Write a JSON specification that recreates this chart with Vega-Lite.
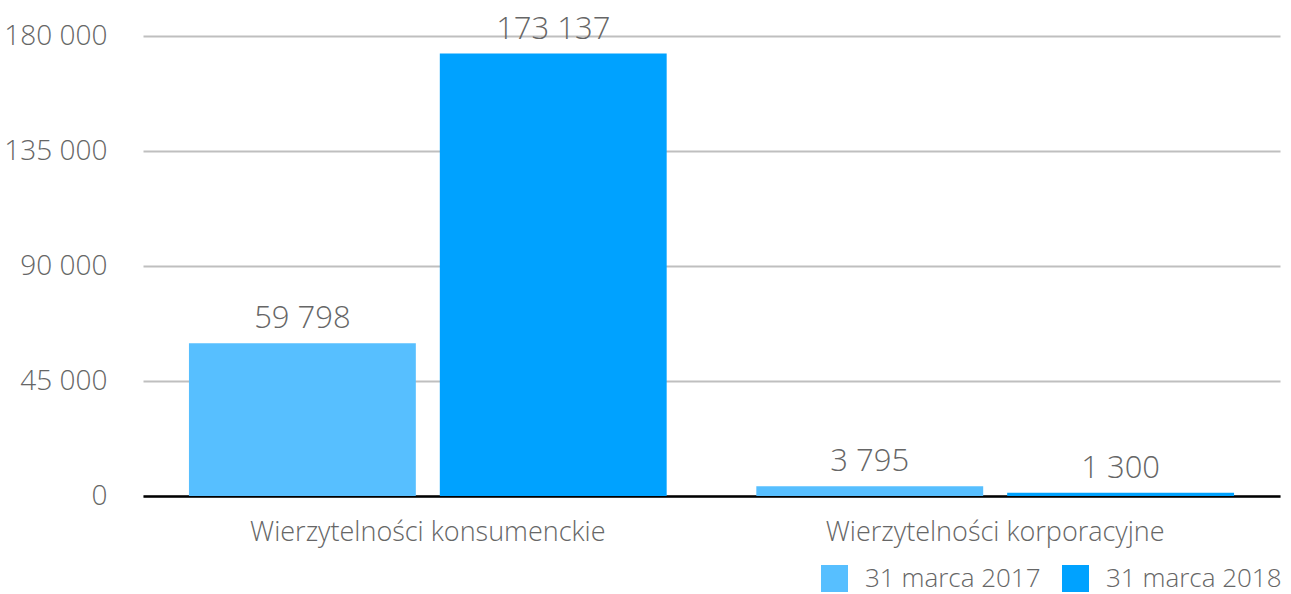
{
  "$schema": "https://vega.github.io/schema/vega-lite/v6.json",
  "width": 1137,
  "height": 460,
  "autosize": {"type": "none"},
  "padding": {"left": 143, "top": 36, "right": 11, "bottom": 98},
  "background": "white",
  "config": {
    "locale": {"number": {"decimal": ",", "thousands": " ", "grouping": [3], "currency": ["", " zł"]}},
    "font": "Open Sans",
    "view": {"stroke": null}
  },
  "data": {
    "values": [
      {"kategoria": "Wierzytelności konsumenckie", "data": "31 marca 2017", "wartosc": 59798},
      {"kategoria": "Wierzytelności konsumenckie", "data": "31 marca 2018", "wartosc": 173137},
      {"kategoria": "Wierzytelności korporacyjne", "data": "31 marca 2017", "wartosc": 3795},
      {"kategoria": "Wierzytelności korporacyjne", "data": "31 marca 2018", "wartosc": 1300}
    ]
  },
  "encoding": {
    "x": {
      "field": "kategoria", "type": "nominal", "title": null, "sort": null,
      "scale": {"paddingInner": 0.158, "paddingOuter": 0.081},
      "axis": {"labelAngle": 0, "labelFontSize": 27, "labelColor": "#666666", "labelPadding": 23, "labelLimit": 0, "ticks": false, "domainColor": "#000000", "domainWidth": 2.5, "labelFont": "Open Sans", "labelFontWeight": 300}
    },
    "xOffset": {"field": "data", "type": "nominal", "scale": {"paddingInner": 0.0956, "paddingOuter": 0}},
    "y": {
      "field": "wartosc", "type": "quantitative", "title": null,
      "scale": {"domain": [0, 180000], "nice": false},
      "axis": {"values": [0, 45000, 90000, 135000, 180000], "format": ",d", "domain": false, "ticks": false, "labelFontSize": 28, "labelColor": "#666666", "labelPadding": 36, "gridColor": "#BFBFBF", "gridWidth": 2, "labelFont": "Open Sans", "labelFontWeight": 300}
    }
  },
  "layer": [
    {
      "mark": {"type": "bar"},
      "encoding": {
        "color": {
          "field": "data", "type": "nominal",
          "scale": {"domain": ["31 marca 2017", "31 marca 2018"], "range": ["#57BFFF", "#00A2FF"]},
          "legend": {
            "title": null, "orient": "none", "direction": "horizontal", "legendX": 678, "legendY": 529,
            "symbolType": "square", "symbolSize": 729, "symbolStrokeWidth": 0, "symbolOpacity": 1,
            "labelFontSize": 26, "labelColor": "#666666", "labelOffset": 17, "columnPadding": 21, "labelFont": "Open Sans", "labelFontWeight": 300, "labelLimit": 0
          }
        }
      }
    },
    {
      "mark": {"type": "text", "dy": -15, "baseline": "alphabetic", "fontSize": 31, "color": "#666666", "font": "Open Sans", "fontWeight": 300},
      "encoding": {
        "text": {"field": "wartosc", "type": "quantitative", "format": ",d"}
      }
    }
  ]
}
